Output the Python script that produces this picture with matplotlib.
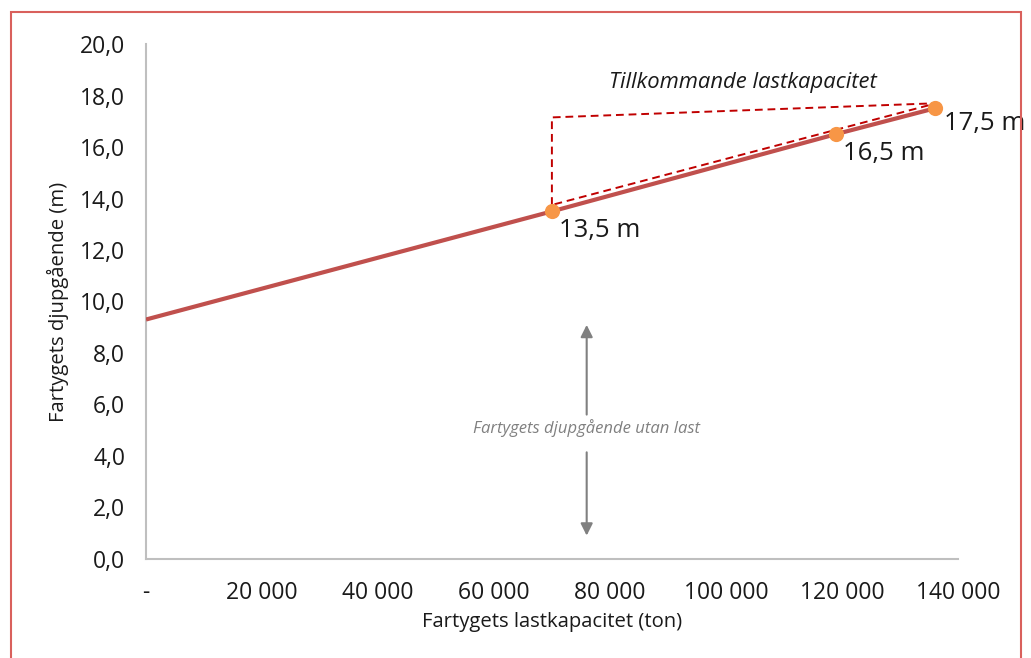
import matplotlib.pyplot as plt
from matplotlib.patches import Rectangle
from matplotlib.ticker import FuncFormatter

plt.rcParams['font.family'] = ['Open Sans', 'DejaVu Sans']

# draft line: unloaded draft at zero capacity up to the largest ship
capacity = [0, 70000, 119000, 136000]
draft = [9.3, 13.5, 16.5, 17.5]

# marked ships
ship_capacity = [70000, 119000, 136000]
ship_draft = [13.5, 16.5, 17.5]

# extra capacity triangle (dashed)
tri_x = [70000, 70000, 136300, 70000]
tri_y = [13.75, 17.15, 17.7, 13.75]

xticks = [0, 20000, 40000, 60000, 80000, 100000, 120000, 140000]
yticks = [0, 2, 4, 6, 8, 10, 12, 14, 16, 18, 20]

fig = plt.figure(figsize=(10.31, 6.58), dpi=100)
ax = fig.add_axes([0.1416, 0.1505, 0.7874, 0.7826])

ax.plot(capacity, draft, color='#c0504d', lw=3, solid_capstyle='butt', zorder=3)
ax.plot(tri_x, tri_y, color='#c00000', lw=1.4, ls=(0, (4, 2.5)), zorder=4)
ax.scatter(ship_capacity, ship_draft, s=120, color='#f79646', zorder=5, linewidths=0)

offsets = [(5, -14), (5, -14), (7, -11)]
for x, y, off in zip(ship_capacity, ship_draft, offsets):
    ax.annotate(f"{y:.1f}".replace('.', ',') + " m", (x, y), xytext=off,
                textcoords='offset points', fontsize=18.5, color='#1a1a1a',
                va='center', ha='left')

ax.text(103000, 18.5, "Tillkommande lastkapacitet", style='italic', fontsize=15.8,
        color='#1a1a1a', ha='center', va='center')

# unloaded draft arrow
ax.annotate("", xy=(76000, 9.2), xytext=(76000, 5.5),
            arrowprops=dict(arrowstyle='-|>', color='#808080', lw=1.5, mutation_scale=18))
ax.annotate("", xy=(76000, 0.8), xytext=(76000, 4.25),
            arrowprops=dict(arrowstyle='-|>', color='#808080', lw=1.5, mutation_scale=18))
ax.text(76000, 5.1, "Fartygets djupgående utan last", style='italic', fontsize=12,
        color='#808080', ha='center', va='center')

ax.set_xlim(0, 140000)
ax.set_ylim(0, 20)
ax.set_xticks(xticks)
ax.set_yticks(yticks)
ax.xaxis.set_major_formatter(FuncFormatter(
    lambda v, p: '-' if v == 0 else f"{int(v):,}".replace(',', ' ')))
ax.yaxis.set_major_formatter(FuncFormatter(lambda v, p: f"{v:.1f}".replace('.', ',')))
ax.tick_params(length=0, labelsize=16.5, colors='#1a1a1a')
ax.tick_params(axis='y', pad=15)
ax.tick_params(axis='x', pad=16)

for side in ['top', 'right']:
    ax.spines[side].set_visible(False)
for side in ['left', 'bottom']:
    ax.spines[side].set_color('#bfbfbf')
    ax.spines[side].set_linewidth(1.5)

ax.set_xlabel("Fartygets lastkapacitet (ton)", fontsize=14.6, color='#1a1a1a', labelpad=5)
ax.set_ylabel("Fartygets djupgående (m)", fontsize=14.6, color='#1a1a1a', labelpad=8)

fig.patches.append(Rectangle((0.0107, -0.05), 0.9796, 1.032, transform=fig.transFigure,
                             fill=False, edgecolor='#d9605c', lw=1.5))

fig.savefig('out.png', dpi=100)
